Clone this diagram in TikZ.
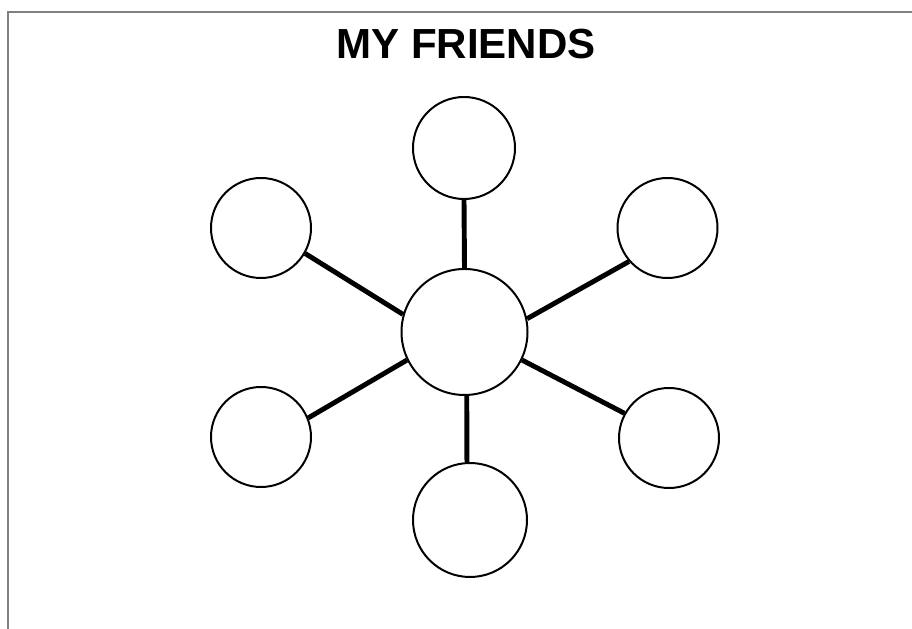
\documentclass[tikz,border=0pt]{standalone}
\usepackage{fontspec}
\setmainfont{Liberation Sans}
\usepackage{tikz}
\usetikzlibrary{positioning}

\tikzset{
    friend/.style={draw, circle, line width=1.7pt, inner sep=0pt, minimum size=3cm},
    link/.style={line width=4.2pt}
}

\begin{document}
\begin{tikzpicture}[x=0.03cm, y=-0.03cm]
    \useasboundingbox (0,0) rectangle (912,629);
    % Frame
    \draw[gray, line width=1.2pt] (8,629) -- (8,12) -- (912,12);

    % Title
    \node[anchor=base, font=\fontsize{35.9}{40}\selectfont\bfseries] (title) at (466,59) {MY FRIENDS};

    % Circles
    \node[friend, minimum size=3.78cm] (me) at (464.5,332) {};
    \node[friend, minimum size=3.06cm] (top) at (464,148) {};
    \node[friend] (topleft) at (261,228) {};
    \node[friend] (topright) at (667.5,228) {};
    \node[friend] (botleft) at (261,437) {};
    \node[friend] (botright) at (669,438) {};
    \node[friend, minimum size=3.42cm] (bottom) at (470,520) {};

    % Links
    \draw[link] (me.90) -- (top.270);
    \draw[link] (me.164) -- (topleft.-30);
    \draw[link] (me.12) -- (topright.221);
    \draw[link] (me.206) -- (botleft.22);
    \draw[link] (me.-26) -- (botright.151);
    \draw[link] (me.272) -- (bottom.93);
\end{tikzpicture}
\end{document}
